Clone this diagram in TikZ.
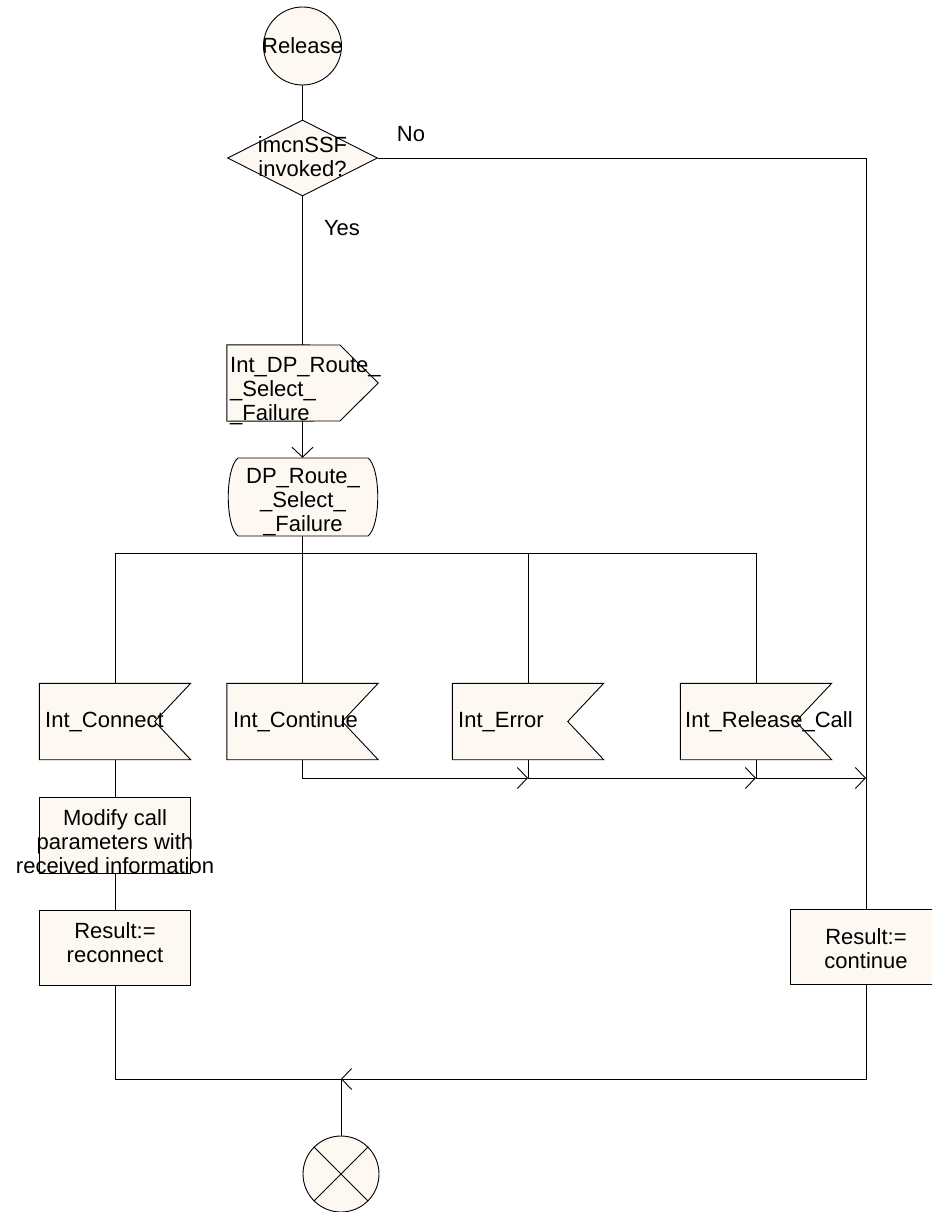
\documentclass[tikz,border=0pt]{standalone}
\usepackage{fontspec}
\setmainfont{Liberation Sans}
\usetikzlibrary{arrows.meta,shapes.geometric}
\definecolor{sdlfill}{RGB}{253,248,242}
\tikzset{
  conn/.style={line width=0.9pt, draw=black},
  arr/.style={conn, -{Straight Barb[length=10pt,width=21pt,line width=0.9pt]}},
  txt/.style={font=\fontsize{22}{24}\selectfont, align=center, inner sep=0pt},
  ltxt/.style={font=\fontsize{22}{24}\selectfont, align=left, inner sep=0pt, anchor=west},
  outline/.style={draw=black, fill=sdlfill, line width=0.9pt},
  area/.style={draw=none, inner sep=0pt, minimum width=151pt, minimum height=76pt},
  taskbox/.style={outline, inner sep=0pt, minimum width=151pt, minimum height=76pt},
}
\begin{document}
\begin{tikzpicture}[x=1pt,y=-1pt]
\useasboundingbox (0,0) rectangle (932,1212);
\clip (0,0) rectangle (932,1212);

% start
\node[circle, outline, minimum size=78pt, inner sep=0pt] (rel) at (302.5,46) {};
\node[txt] (reltxt) at (302.5,46) {Release};

% decision
\node[diamond, outline, minimum width=150pt, minimum height=76pt, inner sep=0pt] (dec) at (302.5,158) {};
\node[txt] (dectxt) at (302.5,157) {imcnSSF\\invoked?};
\node[txt] (no) at (411,134) {No};
\node[txt] (yes) at (342,228) {Yes};

% send signal
\node[area] (send) at (302.5,383) {};
\path[outline] (send.north west) -- (340,345) -- (send.east) -- (340,421) -- (send.south west) -- cycle;
\node[ltxt] (sendtxt) at (230,391) {Int\_DP\_Route\_\\\_Select\_\\\_Failure};

% state
\node[area, minimum width=150pt, minimum height=78pt] (st) at (302.5,497) {};
\path[outline] (238,458) -- (368,458) .. controls (381,468) and (381,526) .. (368,536)
  -- (238,536) .. controls (225,526) and (225,468) .. (238,458) -- cycle;
\node[txt] (sttxt) at (303,502) {DP\_Route\_\\\_Select\_\\\_Failure};

% inputs
\node[area] (iconn) at (115,721.5) {};
\node[area] (icont) at (302.5,721.5) {};
\node[area] (ierr)  at (528,721.5) {};
\node[area] (irel)  at (756,721.5) {};
\foreach \n in {iconn,icont,ierr,irel}{
  \path[outline] (\n.north west) -- (\n.north east) -- ([xshift=-36pt]\n.east) -- (\n.south east) -- (\n.south west) -- cycle;
}
\node[ltxt] (iconntxt) at (45,722) {Int\_Connect};
\node[ltxt] (iconttxt) at (233,722) {Int\_Continue};
\node[ltxt] (ierrtxt)  at (458,722) {Int\_Error};
\node[ltxt] (ireltxt)  at (685,722) {Int\_Release\_Call};

% tasks
\node[taskbox] (mod) at (115,835) {};
\node[txt] (modtxt) at (115,842) {Modify call\\parameters with\\received information};
\node[taskbox, minimum height=75pt] (recon) at (115,947.5) {};
\node[txt] (recontxt) at (115,943) {Result:=\\reconnect};
\node[taskbox, minimum width=152pt, minimum height=75pt] (cont) at (866,946.5) {};
\node[txt] (conttxt) at (866,949) {Result:=\\continue};

% terminator
\node[circle, outline, minimum size=76pt, inner sep=0pt] (term) at (341,1174) {};
\draw[conn] (term.north west) -- (term.south east);
\draw[conn] (term.north east) -- (term.south west);

% coordinates
\coordinate (split) at (302.5,553);
\coordinate (jerr) at (528,778);
\coordinate (jrel) at (756,778);
\coordinate (jright) at (866,778);
\coordinate (jbot) at (341,1079);

% connectors
\draw[conn] (rel.south) -- (dec.north);
\draw[conn] (dec.south) -- (send.north);
\draw[arr] (send.south) -- (st.north);
\draw[conn] (st.south) -- (split);
\draw[conn] (iconn.north) |- (irel.north |- split) -- (irel.north);
\draw[conn] (icont.north) -- (split);
\draw[conn] (ierr.north) -- (ierr.north |- split);

\draw[arr] (icont.south) |- (jerr);
\draw[conn] (ierr.south) -- (jerr);
\draw[arr] (jerr) -- (jrel);
\draw[conn] (irel.south) -- (jrel);
\draw[arr] (jrel) -- (jright);

\draw[conn] (dec.east) -| (cont.north);
\draw[conn] (iconn.south) -- (mod.north);
\draw[conn] (mod.south) -- (recon.north);
\draw[conn] (recon.south) |- (jbot);
\draw[arr] (cont.south) |- (jbot);
\draw[conn] (jbot) -- (term.north);
\end{tikzpicture}
\end{document}
